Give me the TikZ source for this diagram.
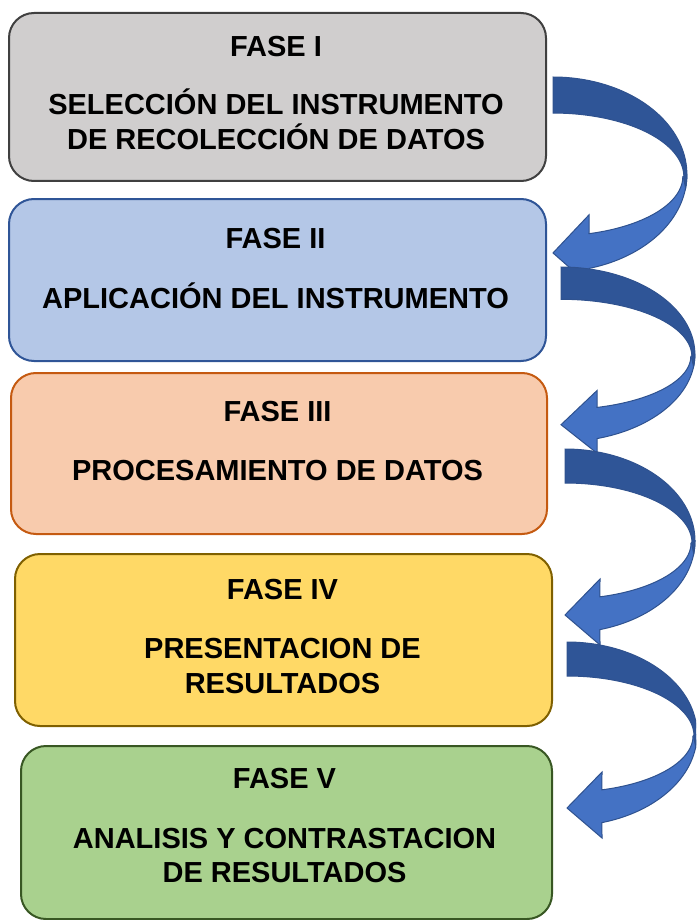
\documentclass[tikz,border=0pt]{standalone}
\usepackage{fontspec}
\setmainfont{Liberation Sans}
\usepackage{xcolor}
\usepackage{tikz}
\usetikzlibrary{positioning}

\definecolor{grisfondo}{HTML}{D0CECE}
\definecolor{grisborde}{HTML}{404040}
\definecolor{azulfondo}{HTML}{B4C7E7}
\definecolor{azulborde}{HTML}{2F5597}
\definecolor{naranjafondo}{HTML}{F8CBAD}
\definecolor{naranjaborde}{HTML}{C55A11}
\definecolor{amarillofondo}{HTML}{FFD966}
\definecolor{amarilloborde}{HTML}{7F6000}
\definecolor{verdefondo}{HTML}{A9D18E}
\definecolor{verdeborde}{HTML}{385723}
\definecolor{flechaclara}{HTML}{4472C4}
\definecolor{flechaoscura}{HTML}{2F5597}
\definecolor{flechaborde}{HTML}{2F528F}

\tikzset{
  caja/.style={rectangle, rounded corners=25pt, draw, line width=2pt, anchor=north west, inner sep=0pt},
  txt/.style={font=\bfseries\fontsize{29}{35}\selectfont, inner sep=0pt, anchor=base},
  flecha/.pic={
    % parte clara (frente y punta)
    \filldraw[fill=flechaclara, draw=flechaborde, line width=1pt, line join=miter]
      plot[domain=0:74.4, samples=40, variable=\t] ({130*cos(\t)}, {92+92*sin(\t)})
      -- (35,196) -- (0,166) -- (35,130)
      -- plot[domain=73.9:0, samples=40, variable=\t] ({126*cos(\t)}, {94+56*sin(\t)})
      -- cycle;
    % parte oscura (cola)
    \filldraw[fill=flechaoscura, draw=flechaborde, line width=1pt]
      plot[domain=-90:8, samples=50, variable=\t] ({130*cos(\t)}, {92+92*sin(\t)})
      -- plot[domain=2:-90, samples=50, variable=\t] ({127*cos(\t)}, {94+60*sin(\t)})
      -- cycle;
  }
}

\begin{document}
\begin{tikzpicture}[x=1pt, y=-1pt]
    \useasboundingbox (0,0) rectangle (696,920);
    \clip (0,0) rectangle (696,920);

    \node[caja, fill=grisfondo, draw=grisborde, minimum width=537pt, minimum height=168pt] (f1) at (8,12) {};
    \node[caja, fill=azulfondo, draw=azulborde, minimum width=537pt, minimum height=162pt] (f2) at (8,198) {};
    \node[caja, fill=naranjafondo, draw=naranjaborde, minimum width=536pt, minimum height=161pt] (f3) at (10,372) {};
    \node[caja, fill=amarillofondo, draw=amarilloborde, minimum width=537pt, minimum height=172pt] (f4) at (14,553) {};
    \node[caja, fill=verdefondo, draw=verdeborde, minimum width=531pt, minimum height=173pt] (f5) at (20,745) {};

    \node[txt] (t1) at (276,57) {FASE I};
    \node[txt] (t1a) at (276,115) {SELECCIÓN DEL INSTRUMENTO};
    \node[txt] (t1b) at (276,150) {DE RECOLECCIÓN DE DATOS};

    \node[txt] (t2) at (275.5,248) {FASE II};
    \node[txt] (t2a) at (275.5,308) {APLICACIÓN DEL INSTRUMENTO};

    \node[txt] (t3) at (277.5,421) {FASE III};
    \node[txt] (t3a) at (277.5,480) {PROCESAMIENTO DE DATOS};

    \node[txt] (t4) at (282.5,599) {FASE IV};
    \node[txt] (t4a) at (282.5,658) {PRESENTACION DE};
    \node[txt] (t4b) at (282.5,693) {RESULTADOS};

    \node[txt] (t5) at (284.5,788) {FASE V};
    \node[txt] (t5a) at (284.5,848) {ANALISIS Y CONTRASTACION};
    \node[txt] (t5b) at (284.5,882) {DE RESULTADOS};

    % flechas curvas entre fases
    \pic[xscale=1.03, yscale=1.06] (a1) at (553,77) {flecha};
    \pic[xscale=1.03, yscale=0.95] (a2) at (561,267) {flecha};
    \pic (a3) at (565,449) {flecha};
    \pic (a4) at (567,642) {flecha};
\end{tikzpicture}
\end{document}
